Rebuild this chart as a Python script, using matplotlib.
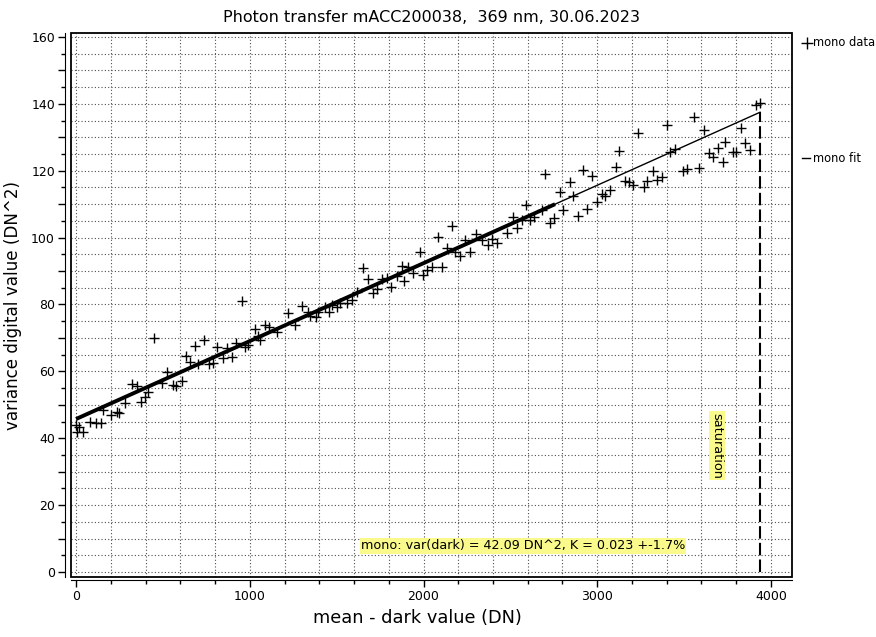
import matplotlib
matplotlib.use("Agg")
import matplotlib.pyplot as plt
from matplotlib.ticker import MultipleLocator, FuncFormatter
from matplotlib.patches import Rectangle
from matplotlib.lines import Line2D

plt.rcParams['font.family'] = ['DejaVu Sans']

# measured points (mean - dark, variance)
mean_dn = [0, 19, 7, 39, 81, 115, 142, 155, 200, 234, 247, 282, 321, 349, 372, 397, 416, 449, 493, 525,
           560, 576, 608, 633, 656, 685, 704, 737, 767, 787, 810, 844, 867, 896, 921, 954, 973, 992, 1030, 1049,
           1059, 1088, 1112, 1155, 1222, 1260, 1299, 1337, 1347, 1381, 1392, 1433, 1458, 1471, 1500, 1519, 1558,
           1587, 1615, 1650, 1679, 1711, 1731, 1759, 1788, 1811, 1846, 1875, 1890, 1913, 1941, 1980, 1995, 2022,
           2047, 2085, 2108, 2133, 2162, 2181, 2210, 2239, 2268, 2302, 2335, 2373, 2392, 2425, 2479, 2517, 2536,
           2565, 2590, 2613, 2636, 2680, 2699, 2728, 2751, 2786, 2805, 2843, 2862, 2891, 2916, 2939, 2968, 2997,
           3026, 3045, 3073, 3108, 3127, 3160, 3185, 3204, 3236, 3269, 3288, 3319, 3342, 3371, 3403, 3419, 3447,
           3492, 3515, 3557, 3587, 3614, 3645, 3664, 3693, 3722, 3735, 3779, 3799, 3827, 3850, 3879, 3912, 3937]
var_dn = [44.0, 43.4, 42.0, 42.0, 44.9, 44.5, 44.5, 48.4, 46.9, 47.9, 47.6, 50.6, 56.2, 55.6, 50.9, 52.4, 53.9, 69.9, 56.4, 59.9,
          55.9, 55.6, 57.2, 64.6, 62.9, 67.6, 62.2, 69.4, 62.2, 62.4, 67.2, 63.9, 66.9, 64.4, 68.6, 81.1, 67.4, 67.9, 72.6, 70.6,
          69.4, 73.9, 73.4, 71.9, 77.5, 73.9, 79.5, 77.8, 76.6, 76.3, 77.8, 79.3, 77.8, 79.8, 79.3, 80.4, 80.4,
          81.3, 83.8, 90.8, 87.5, 83.5, 84.5, 87.5, 87.8, 85.3, 88.5, 91.5, 87.1, 91.3, 89.3, 95.8, 88.8, 90.3,
          91.1, 100.3, 91.3, 96.8, 103.5, 95.8, 94.5, 99.3, 95.8, 101.1, 99.3, 97.8, 99.5, 98.3, 101.3, 106.1, 102.8,
          105.3, 109.7, 105.3, 106.1, 108.3, 119.0, 104.3, 105.8, 113.7, 108.3, 116.7, 112.4, 106.5, 120.2, 108.5, 118.4, 110.7,
          113.0, 112.4, 114.2, 121.0, 125.9, 117.0, 116.7, 115.7, 131.4, 115.0, 117.0, 120.0, 117.2, 118.2, 133.7, 125.7, 126.4,
          120.0, 120.4, 136.0, 120.7, 132.2, 125.2, 124.0, 126.7, 122.7, 128.7, 125.7, 125.7, 132.9, 128.2, 126.2, 139.7, 140.3]

# fit line: thick part = fit range, thin part = extrapolation up to saturation
fit_x = [0, 2757]
fit_y = [45.75, 110.0]
extra_x = [2757, 3937]
extra_y = [110.0, 137.5]
sat_x = [3937, 3937]
sat_y = [0, 137.5]

title = "Photon transfer mACC200038,  369 nm, 30.06.2023"
info = "mono: var(dark) = 42.09 DN^2, K = 0.023 +-1.7%"

fig = plt.figure(figsize=(8.76, 6.37), dpi=100)
W, H = 876, 637
ax = fig.add_axes([71 / W, 1 - 577 / H, (792 - 71) / W, (577 - 33) / H])

ax.set_xlim(-29, 4121)
ax.set_ylim(-1.5, 161.2)

ax.xaxis.set_major_locator(MultipleLocator(1000))
ax.xaxis.set_minor_locator(MultipleLocator(200))
ax.yaxis.set_major_locator(MultipleLocator(10))
ax.yaxis.set_minor_locator(MultipleLocator(5))
ax.yaxis.set_major_formatter(FuncFormatter(lambda v, p: "%d" % v if round(v) % 20 == 0 else ""))

ax.grid(True, which='both', color='0.3', linestyle=(0, (1, 2)), linewidth=0.8)
ax.set_axisbelow(True)

ax.spines['top'].set_visible(False)
ax.spines['right'].set_visible(False)
ax.spines['left'].set_position(('outward', 4))
ax.spines['bottom'].set_position(('outward', 2))
ax.add_patch(Rectangle((0, 0), 1, 1, transform=ax.transAxes, fill=False,
                       lw=1.3, ec='black', clip_on=False, zorder=5))

ax.tick_params(which='major', direction='out', length=5, width=1, labelsize=9, pad=2.5)
ax.tick_params(which='minor', direction='out', length=3, width=1)

ax.plot(mean_dn, var_dn, linestyle='none', marker='+', markersize=7.5,
        markeredgewidth=1.0, color='black', zorder=3)
ax.plot(fit_x, fit_y, color='black', lw=2.8, solid_capstyle='butt', zorder=4)
ax.plot(extra_x, extra_y, color='black', lw=1.0, zorder=4)
ax.plot(sat_x, sat_y, color='black', lw=1.5, linestyle=(0, (6, 2)), zorder=4)

ax.text(1639, 7.8, info, fontsize=9.2, ha='left', va='center',
        bbox=dict(boxstyle='square,pad=0.1', fc='#fafa8c', ec='none'), zorder=6)
ax.text(3689, 37.8, "saturation", fontsize=9.3, rotation=-90, ha='center', va='center',
        bbox=dict(boxstyle='square,pad=0.1', fc='#fafa8c', ec='none'), zorder=6)

ax.set_title(title, fontsize=11.5, pad=8)
ax.set_xlabel("mean - dark value (DN)", fontsize=12.8)
ax.set_ylabel("variance digital value (DN^2)", fontsize=12.1)
ax.xaxis.set_label_coords(0.48, -0.058)
ax.yaxis.set_label_coords(-0.068, 0.5)

# legend at the right, outside the frame
fig.add_artist(Line2D([807 / W], [1 - 42.7 / H], marker='+', markersize=8,
                      markeredgewidth=1.0, color='black', linestyle='none'))
fig.text(813 / W, 1 - 42.7 / H, "mono data", fontsize=8.3, ha='left', va='center')
fig.add_artist(Line2D([802 / W, 810 / W], [1 - 158.3 / H, 1 - 158.3 / H], color='black', lw=1.0))
fig.text(813 / W, 1 - 158.3 / H, "mono fit", fontsize=8.3, ha='left', va='center')

fig.savefig("out.png", dpi=100)
